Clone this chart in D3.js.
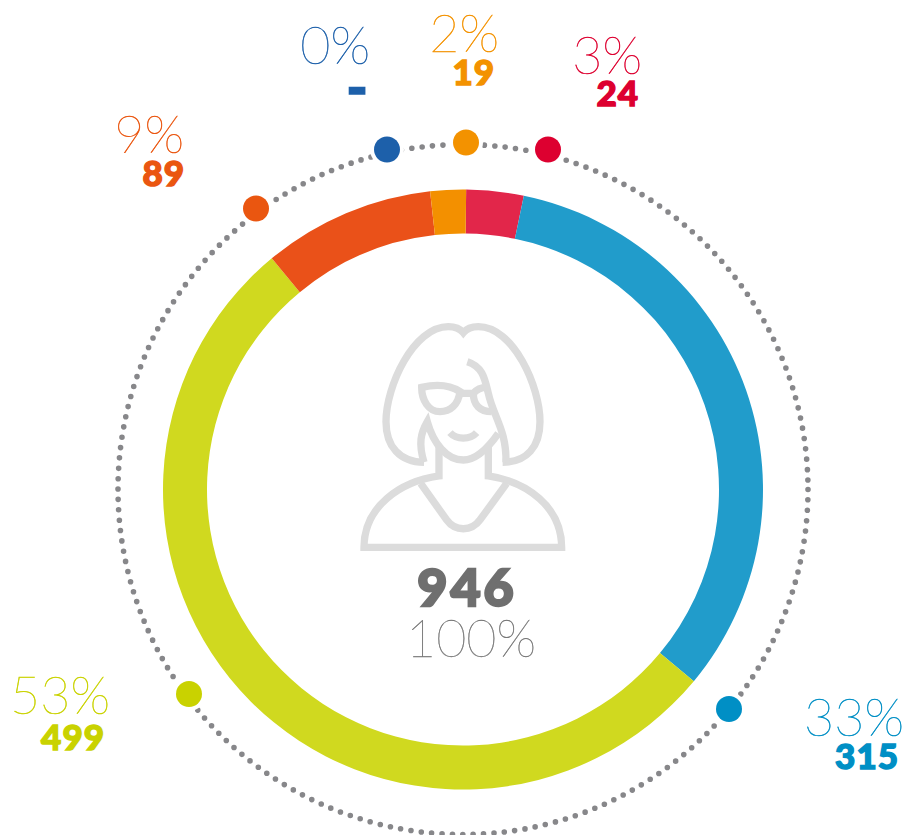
<!DOCTYPE html>
<html><head><meta charset="utf-8">
<script src="https://cdn.jsdelivr.net/npm/d3@7"></script>
<style>html,body{margin:0;padding:0;background:#fff}svg{display:block}
.pct{font-family:Lato,sans-serif;font-weight:100}
.num{font-family:Lato,sans-serif;font-weight:900}</style></head>
<body><svg id="c" width="906" height="835"></svg>
<script>
const categories = ["c1","c2","c3","c4","c5","c6"];
const counts = ["24","315","499","89","-","19"];
const percents = ["3%","33%","53%","9%","0%","2%"];
// arc sizes in degrees, as drawn in the picture
const arcDegrees = [11.1,118,190.7,33.3,0,6.9];
const arcColors = ["#e2264a","#219ccb","#d0d91f","#ea5119","#1d60aa","#f39000"];
const markColors = ["#dd0030","#008fc5","#c9d200","#ea5610","#1d60aa","#f39200"];
const total = "946", totalPct = "100%";

const cx=463, cy=489.5, svg=d3.select("#c");
const pie=d3.pie().sort(null).value(d=>d).startAngle(0.6*Math.PI/180).endAngle(360.6*Math.PI/180);
const arc=d3.arc().innerRadius(256).outerRadius(300);
const g=svg.append("g").attr("transform",`translate(${cx},${cy})`);
g.selectAll("path.s").data(pie(arcDegrees)).join("path").attr("class","s").attr("d",arc).attr("fill",(d,i)=>arcColors[i]);

g.append("circle").attr("r",345).attr("fill","none").attr("stroke","#87878a").attr("stroke-width",5.6)
  .attr("stroke-linecap","round").attr("stroke-dasharray",`0 ${(2*Math.PI*345/208).toFixed(4)}`);

const markPos=[[548,149.5],[729,709],[189,694],[256,208.5],[387,149.5],[466,142.5]];
svg.selectAll("circle.h").data(markPos).join("circle").attr("class","h").attr("cx",d=>d[0]).attr("cy",d=>d[1]).attr("r",17).attr("fill","#fff");
svg.selectAll("circle.m").data(markPos).join("circle").attr("class","m").attr("cx",d=>d[0]).attr("cy",d=>d[1]).attr("r",13).attr("fill",(d,i)=>markColors[i]);

const pctPos=[[642,74],[904,736],[110,714],[184,153],[370,64],[499,52]];
const numPos=[[639,106],[899,769],[105,750],[185,186],[369,108],[495,85]];
const numSize=[35,35,35,35,58,35];
svg.selectAll("text.pct").data(percents).join("text").attr("class","pct").attr("text-anchor","end")
 .attr("x",(d,i)=>pctPos[i][0]).attr("y",(d,i)=>pctPos[i][1]).attr("font-size",52)
 .attr("fill",(d,i)=>markColors[i]).attr("stroke",(d,i)=>markColors[i]).attr("stroke-width",0.5).text(d=>d);
svg.selectAll("text.num").data(counts).join("text").attr("class","num").attr("text-anchor","end")
 .attr("x",(d,i)=>numPos[i][0]).attr("y",(d,i)=>numPos[i][1]).attr("font-size",(d,i)=>numSize[i])
 .attr("letter-spacing",1).attr("fill",(d,i)=>markColors[i]).attr("stroke",(d,i)=>markColors[i]).attr("stroke-width",1.4).text(d=>d);
svg.append("text").attr("class","num").attr("text-anchor","middle").attr("x",467).attr("y",606).attr("font-size",52)
 .attr("letter-spacing",3).attr("fill","#6f6f6f").attr("stroke","#6f6f6f").attr("stroke-width",2.4).text(total);
svg.append("text").attr("class","pct").attr("text-anchor","middle").attr("x",471).attr("y",657).attr("font-size",52)
 .attr("fill","#777").attr("stroke","#777").attr("stroke-width",0.4).text(totalPct);

const icon=svg.append("g").attr("transform","translate(350,310) scale(0.3333)").attr("fill","none").attr("stroke","#dcdcdc").attr("stroke-width",22);
[
"M222,457 C150,457 108,410 108,335 C108,230 190,50 295,50 C320,50 335,62 340,68 C345,62 360,50 385,50 C490,50 570,230 570,335 C570,410 530,457 458,457",
"M352,155 C400,170 405,210 415,250 C430,320 470,360 468,457",
"M222,457 C205,400 212,370 232,335 C250,400 290,450 340,450 C375,450 410,420 445,370",
"M267,410 L267,498 C150,515 42,590 42,712 L635,712 C635,590 530,515 415,498 L415,405",
"M212,520 L290,630 C315,665 365,665 390,630 L470,520",
"M300,368 C320,390 360,390 380,368",
"M215,232 C260,222 300,225 330,245 C325,285 300,305 270,305 C235,305 215,270 215,232 Z",
"M330,250 L370,250 C380,238 395,232 410,232",
"M370,250 C370,285 390,305 425,305"
].forEach(p=>icon.append("path").attr("d",p));
</script></body></html>
